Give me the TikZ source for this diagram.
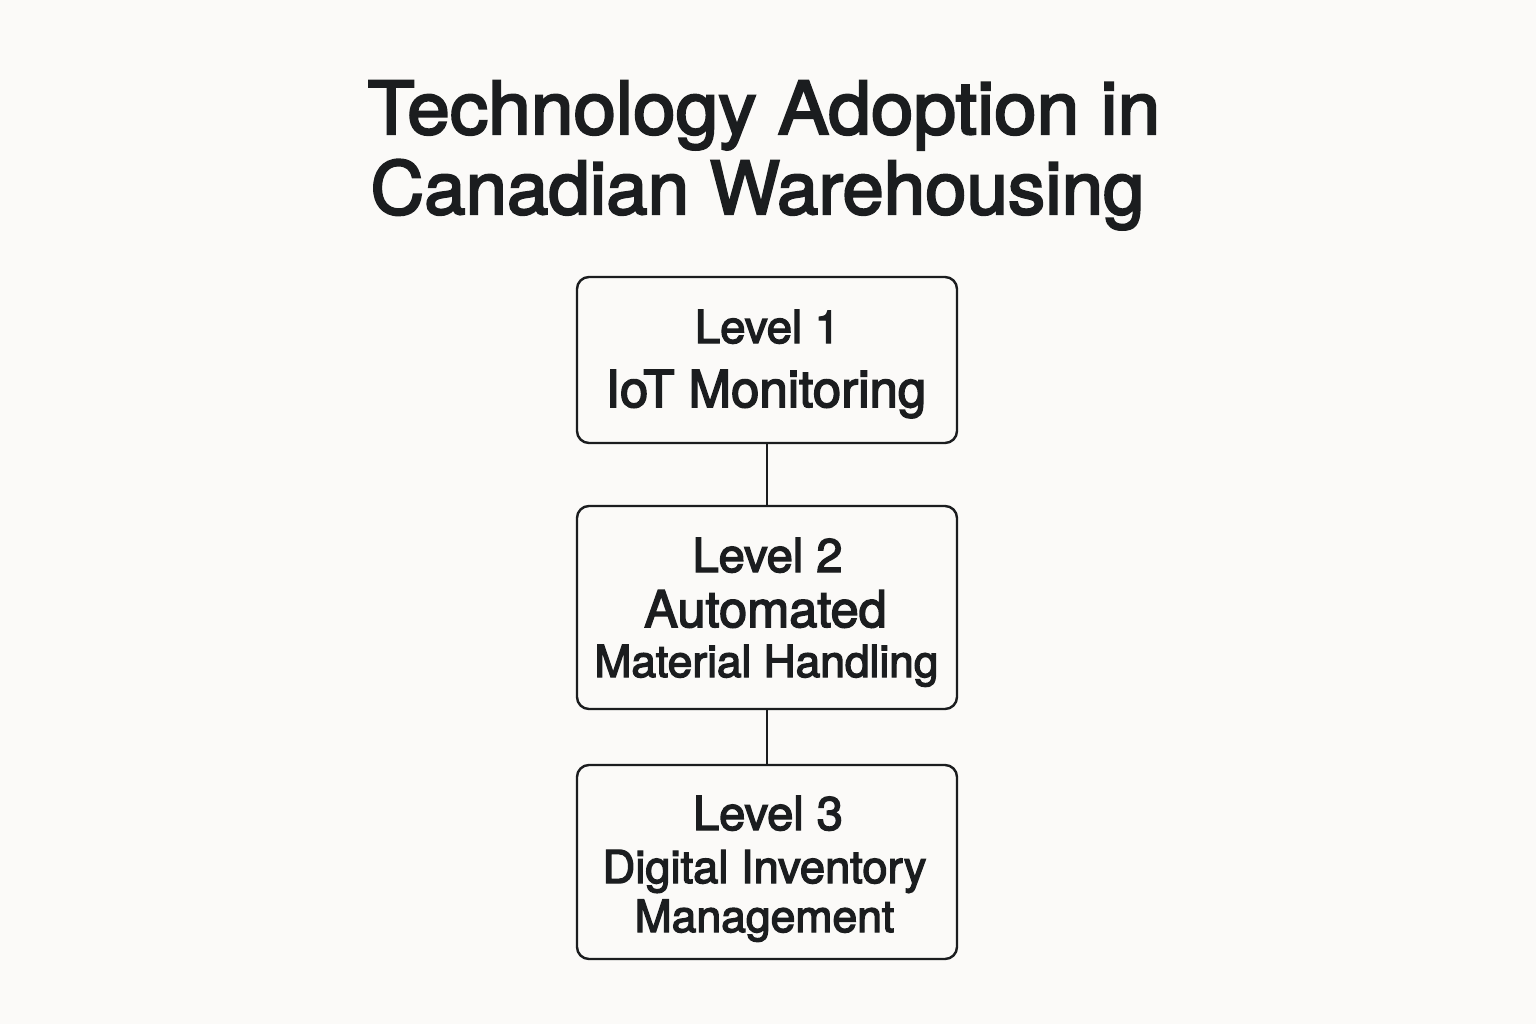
\documentclass[tikz,border=0pt]{standalone}
\usepackage{fontspec}
\setmainfont{TeX Gyre Heros}
\newfontfamily\titlefont[FakeBold=3,FakeStretch=1.05]{TeX Gyre Heros}
\newfontfamily\boxfont[FakeBold=3]{TeX Gyre Heros}
\definecolor{bg}{HTML}{FBFAF8}
\definecolor{ink}{HTML}{1B1D1F}
\begin{document}
\begin{tikzpicture}[x=1pt,y=-1pt,
  box/.style={draw=ink, line width=2.4pt, rounded corners=12pt, fill=none, inner sep=0pt},
  txt/.style={anchor=base, text=ink, inner sep=0pt, font=\boxfont},
  ttl/.style={anchor=base, text=ink, inner sep=0pt, font=\titlefont\fontsize{73}{73}\selectfont},
  link/.style={draw=ink, line width=1.7pt}]
\useasboundingbox[fill=bg] (0,0) rectangle (1536,1024);
\node[ttl] (title1) at (764,134) {Technology Adoption in};
\node[ttl, xscale=0.971, transform shape] (title2) at (757.5,214) {Canadian Warehousing};

\node[box, minimum width=380pt, minimum height=166pt] (b1) at (767,360) {};
\node[box, minimum width=380pt, minimum height=203pt] (b2) at (767,607.5) {};
\node[box, minimum width=380pt, minimum height=194pt] (b3) at (767,862) {};

\node[txt, font=\boxfont\fontsize{45.5}{45.5}\selectfont] (t1a) at (767.5,343) {Level 1};
\node[txt, font=\boxfont\fontsize{51}{51}\selectfont] (t1b) at (766,407) {IoT Monitoring};
\node[txt, font=\boxfont\fontsize{47}{47}\selectfont] (t2a) at (767.5,572) {Level 2};
\node[txt, font=\boxfont\fontsize{50.5}{50.5}\selectfont] (t2b) at (765.5,627) {Automated};
\node[txt, font=\boxfont\fontsize{44.3}{44.3}\selectfont] (t2c) at (766.5,677) {Material Handling};
\node[txt, font=\boxfont\fontsize{47}{47}\selectfont] (t3a) at (768,830) {Level 3};
\node[txt, font=\boxfont\fontsize{45.3}{45.3}\selectfont] (t3b) at (764.5,883) {Digital Inventory};
\node[txt, font=\boxfont\fontsize{44.5}{44.5}\selectfont] (t3c) at (764.5,932) {Management};

\draw[link] (b1.south) -- (b2.north);
\draw[link] (b2.south) -- (b3.north);
\end{tikzpicture}
\end{document}
